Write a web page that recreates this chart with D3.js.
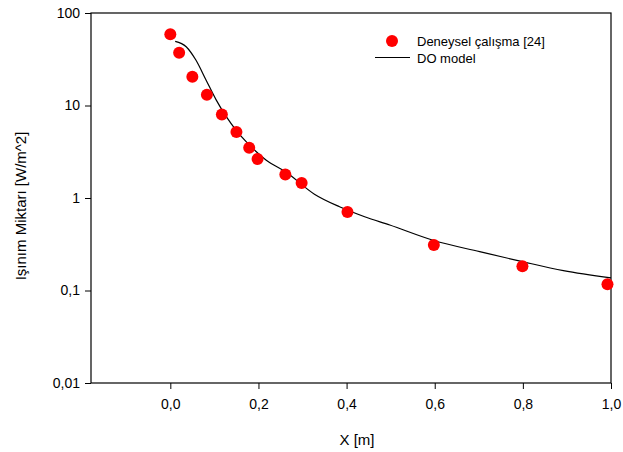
<!DOCTYPE html>
<html><head><meta charset="utf-8">
<script src="https://cdn.jsdelivr.net/npm/d3@7"></script>
<style>body{margin:0;background:#fff}svg{display:block}text{font-family:"Liberation Sans",Arial,sans-serif}</style>
</head><body>
<svg id="c" width="623" height="452"></svg>
<script>
const expX = [0.0, 0.02, 0.05, 0.083, 0.117, 0.15, 0.179, 0.198, 0.261, 0.298, 0.402, 0.598, 0.799, 0.992];
const expY = [59, 37.2, 20.5, 13.1, 8.0, 5.17, 3.5, 2.64, 1.80, 1.45, 0.706, 0.31, 0.183, 0.117];
const modelX = [0.011, 0.036, 0.058, 0.081, 0.104, 0.127, 0.149, 0.172, 0.217, 0.263, 0.327, 0.384, 0.441, 0.498, 0.598, 0.702, 0.799, 0.892, 1.0];
const modelY = [49.4, 43.2, 31, 18.9, 11.5, 7.57, 5.43, 4.06, 2.58, 1.90, 1.10, 0.805, 0.628, 0.51, 0.347, 0.263, 0.205, 0.164, 0.137];
const xTicks = [0, 0.2, 0.4, 0.6, 0.8, 1.0];
const xTickLabels = ["0,0", "0,2", "0,4", "0,6", "0,8", "1,0"];
const yTicks = [100, 10, 1, 0.1, 0.01];
const yTickLabels = ["100", "10", "1", "0,1", "0,01"];
const seriesNames = ["Deneysel çalışma [24]", "DO model"];

const svg = d3.select("#c");
const L = 91, R = 611, T = 13, B = 383;
const x = d3.scaleLinear().domain([-0.18, 1.0]).range([L, R]);
const y = d3.scaleLog().domain([0.01, 100]).range([B, T]);

// frame
svg.append("rect").attr("x", L).attr("y", T).attr("width", R - L).attr("height", B - T)
  .attr("fill", "none").attr("stroke", "#000").attr("stroke-width", 1.2);

const xa = svg.append("g").attr("transform", `translate(0,${B})`)
  .call(d3.axisBottom(x).tickValues(xTicks).tickSize(6).tickPadding(10)
    .tickFormat((d, i) => xTickLabels[i]));
const ya = svg.append("g").attr("transform", `translate(${L},0)`)
  .call(d3.axisLeft(y).tickValues(yTicks).tickSize(6).tickPadding(5)
    .tickFormat((d, i) => yTickLabels[i]));
[xa, ya].forEach(a => {
  a.select(".domain").remove();
  a.selectAll("line").attr("stroke", "#000").attr("stroke-width", 1);
  a.selectAll("text").attr("font-size", 14).attr("fill", "#000")
    .style("font-family", '"Liberation Sans",Arial,sans-serif');
});

// model line
const line = d3.line().x((d, i) => x(modelX[i])).y((d, i) => y(modelY[i])).curve(d3.curveMonotoneX);
svg.append("path").datum(modelX).attr("d", line).attr("fill", "none")
  .attr("stroke", "#000").attr("stroke-width", 1.2);

// experimental points
svg.selectAll("circle.p").data(expX).enter().append("circle").attr("class", "p")
  .attr("cx", d => x(d)).attr("cy", (d, i) => y(expY[i])).attr("r", 6).attr("fill", "#ff0000");

// legend
svg.append("circle").attr("cx", 392).attr("cy", 41).attr("r", 6).attr("fill", "#ff0000");
svg.append("text").attr("x", 417).attr("y", 46).attr("font-size", 13).text(seriesNames[0]);
svg.append("line").attr("x1", 375).attr("x2", 410).attr("y1", 57.5).attr("y2", 57.5)
  .attr("stroke", "#000").attr("stroke-width", 1.2);
svg.append("text").attr("x", 417).attr("y", 63).attr("font-size", 13).text(seriesNames[1]);

// axis titles
svg.append("text").attr("x", (L + R) / 2 + 6).attr("y", 445).attr("text-anchor", "middle")
  .attr("font-size", 15).text("X [m]");
svg.append("text").attr("transform", `translate(26,${(T + B) / 2 + 8}) rotate(-90)`)
  .attr("text-anchor", "middle").attr("font-size", 15).text("Işınım Miktarı [W/m^2]");
</script>
</body></html>
